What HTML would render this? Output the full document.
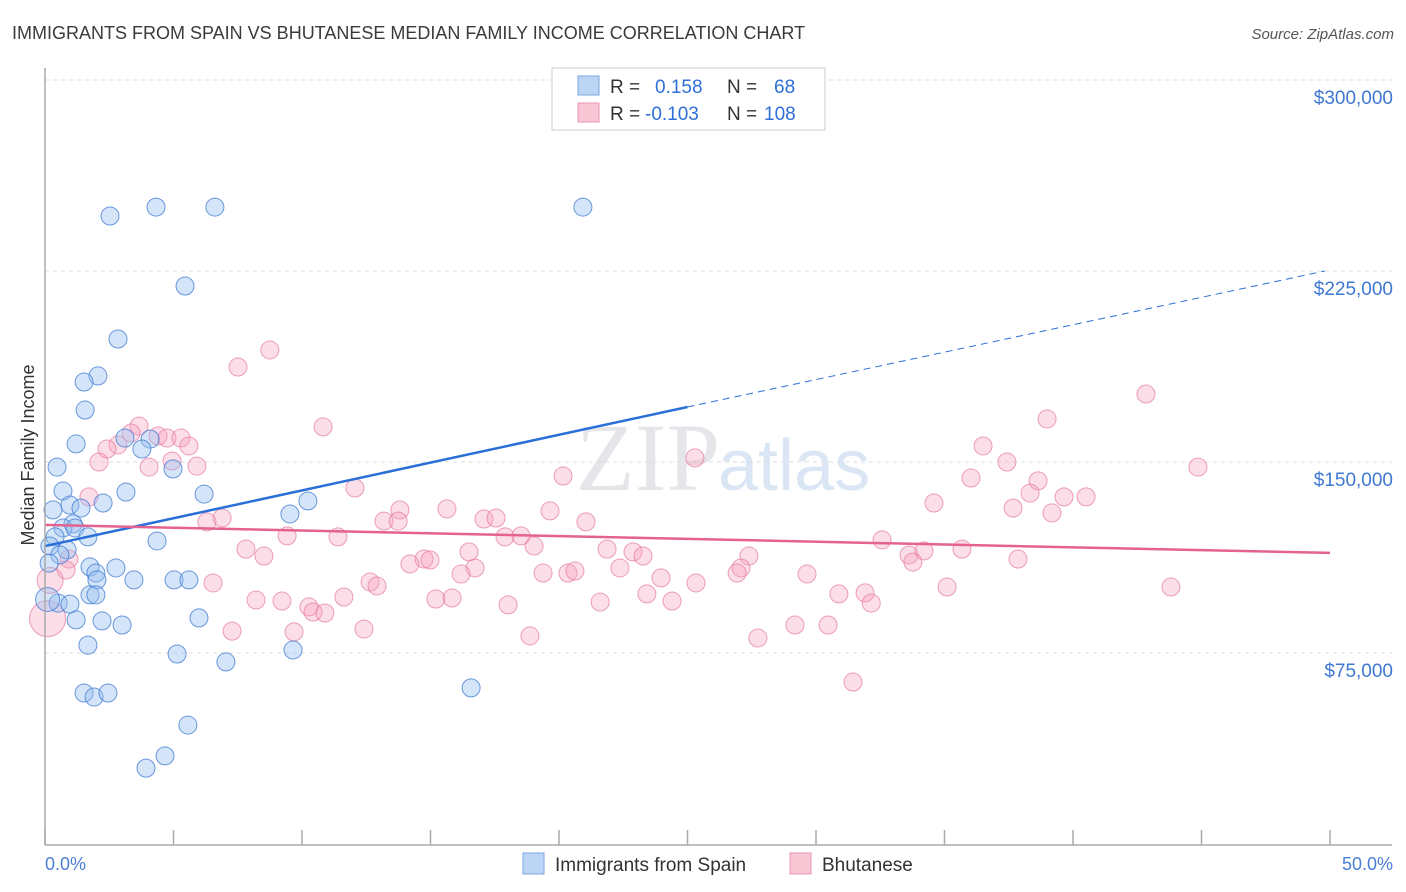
<!DOCTYPE html>
<html><head><meta charset="utf-8"><style>
body{margin:0;background:#fff;font-family:"Liberation Sans",sans-serif}
#c{position:absolute;left:0;top:0}
</style></head><body>
<svg id="c" width="1406" height="892" xmlns="http://www.w3.org/2000/svg">
<text x="12" y="39" font-size="18" fill="#3a3a3a">IMMIGRANTS FROM SPAIN VS BHUTANESE MEDIAN FAMILY INCOME CORRELATION CHART</text>
<text x="1394" y="39" font-size="15" fill="#555" text-anchor="end" font-style="italic">Source: ZipAtlas.com</text>
<text x="720" y="490" font-size="96" fill="#e6e6ea" text-anchor="end" font-family="Liberation Serif,serif">ZIP</text>
<text x="718" y="490" font-size="72" fill="#dbe6f5">atlas</text>
<g id="grid"></g>
<g id="pts"></g>
<g id="trend"></g>
<line x1="45" y1="68" x2="45" y2="845" stroke="#aaa" stroke-width="1.5"/>
<line x1="45" y1="845" x2="1392" y2="845" stroke="#aaa" stroke-width="1.5"/>
<g id="ticks"></g>
<text x="34" y="455" font-size="18" fill="#333" text-anchor="middle" transform="rotate(-90 34 455)">Median Family Income</text>
<text x="45" y="870" font-size="18" fill="#4a7fd4">0.0%</text>
<text x="1393" y="870" font-size="18" fill="#4a7fd4" text-anchor="end">50.0%</text>
<g>
<rect x="552" y="68" width="273" height="62" fill="#fff" stroke="#ccc"/>
<rect x="578" y="76" width="21" height="19" fill="#bcd5f5" stroke="#7aa6e0"/>
<rect x="578" y="103" width="21" height="19" fill="#f9c6d6" stroke="#ec95b1"/>
<text x="610" y="93" font-size="19" fill="#333">R = <tspan fill="#2f6fd6" x="655">0.158</tspan><tspan x="727" fill="#333">N =</tspan><tspan x="774" fill="#2f6fd6">68</tspan></text>
<text x="610" y="120" font-size="19" fill="#333">R = <tspan fill="#2f6fd6" x="645">-0.103</tspan><tspan x="727" fill="#333">N =</tspan><tspan x="764" fill="#2f6fd6">108</tspan></text>
</g>
<g>
<rect x="523" y="853" width="21" height="21" fill="#bcd5f5" stroke="#7aa6e0"/>
<text x="555" y="871" font-size="19" fill="#333">Immigrants from Spain</text>
<rect x="790" y="853" width="21" height="21" fill="#f9c6d6" stroke="#ec95b1"/>
<text x="822" y="871" font-size="19" fill="#333">Bhutanese</text>
</g>
</svg>
<script>
const yTicks=[75000,150000,225000,300000];
const yTickLabels=["$75,000","$150,000","$225,000","$300,000"];
const xTicks=[0,5,10,15,20,25,30,35,40,45,50];
const spainX=[2.53,4.32,6.61,20.93,5.45,2.84,2.06,1.52,1.56,1.21,0.47,3.11,4.09,3.77,4.98,6.19,3.15,0.70,2.26,0.97,1.40,0.31,9.53,10.23,1.09,0.70,1.17,1.67,0.39,4.36,0.19,0.86,0.58,0.16,1.75,2.76,1.98,2.02,3.46,5.02,5.60,1.75,1.98,0.51,0.97,5.99,1.21,2.22,3.00,1.67,5.14,9.65,7.04,1.52,1.91,2.45,16.58,5.56,4.67,3.93,0.1];
const spainY=[246.6,250.1,250.1,250.1,219.1,198.3,183.8,181.4,170.4,157.1,148.0,159.4,159.0,155.1,147.3,137.4,138.2,138.6,133.9,133.1,131.9,131.2,129.6,134.7,125.7,124.1,124.1,120.6,120.6,119.0,117.0,115.5,113.5,110.3,108.8,108.4,106.4,103.7,103.7,103.7,103.7,97.8,97.8,94.6,94.2,88.8,88.0,87.6,86.0,78.1,74.6,76.2,71.5,59.3,57.7,59.3,61.3,46.7,34.6,29.8,96.0];
const bhuX=[42.84,8.75,7.51,10.82,38.99,3.66,3.35,4.40,4.75,5.29,2.84,2.41,5.60,2.10,4.94,5.91,4.05,36.50,25.29,37.43,44.86,20.16,36.03,38.64,12.06,38.33,39.65,40.51,1.71,34.59,37.67,39.18,15.64,13.81,19.65,6.89,6.30,13.19,13.74,17.08,17.55,21.05,9.42,11.40,17.90,18.52,19.03,32.57,7.82,8.52,16.50,21.87,22.88,23.27,27.39,33.62,34.20,35.68,37.86,33.77,14.75,14.98,14.20,16.73,22.37,27.08,16.19,19.38,20.35,20.62,26.93,29.65,23.97,12.65,12.92,6.54,25.33,35.10,43.81,30.89,31.91,23.42,8.21,9.22,11.63,15.21,15.84,18.02,21.60,24.40,32.15,10.27,10.43,10.89,12.41,7.28,9.69,18.87,27.74,29.18,30.47,31.44,0.93,0.82,0.2,0.1];
const bhuY=[176.7,194.0,187.3,163.8,166.9,164.1,161.4,160.2,159.4,159.4,156.7,155.1,156.3,150.0,150.4,148.4,148.0,156.3,151.6,150.0,148.0,144.5,143.7,142.6,139.8,137.8,136.3,136.3,136.3,133.9,131.9,130.0,131.6,131.2,130.8,128.0,126.5,126.8,126.8,127.6,128.0,126.5,121.0,120.6,120.6,121.0,117.0,119.4,115.8,113.1,114.7,115.8,114.7,113.1,113.1,113.5,115.1,115.8,111.9,110.7,111.9,111.5,110.0,108.4,108.4,108.4,106.0,106.4,106.4,107.2,106.4,106.0,104.5,102.9,101.3,102.5,102.5,100.9,100.9,98.2,98.6,98.2,95.8,95.4,97.0,96.2,96.6,93.9,95.0,95.4,94.6,93.1,91.1,90.7,84.4,83.6,83.3,81.7,80.9,86.0,86.0,63.6,111.9,107.6,103.5,88.5];
const bhuR=[];for(let i=0;i<bhuX.length;i++)bhuR.push(9);bhuR[bhuR.length-2]=13;bhuR[bhuR.length-1]=18;
const spainTrend=[117.0,171.6,225.0];const spainTrendX=[0,25,49.8];
const bhuTrend=[125.3,114.3];const bhuTrendX=[0,50];
const X=p=>45+p*25.7, Y=v=>844-v*1000/392.7*(1/1000)*1000/1000*1;
function Yv(k){return 844-k*191/75;}
const ns="http://www.w3.org/2000/svg";
function mk(t,a,p){const e=document.createElementNS(ns,t);for(const k in a)e.setAttribute(k,a[k]);p.appendChild(e);return e;}
const grid=document.getElementById('grid'),ticks=document.getElementById('ticks');
yTicks.forEach((v,i)=>{const y=Yv(v/1000);
const l=mk('line',{x1:45,x2:1392,y1:y,y2:y,stroke:'#ddd','stroke-dasharray':'4,4'},grid);


const t=mk('text',{x:1393,y:y+24,'font-size':19,fill:'#3f78d2','text-anchor':'end'},grid);t.textContent=yTickLabels[i];

});
xTicks.forEach(p=>{const l=mk('line',{x1:X(p),x2:X(p),y1:830,y2:845,stroke:'#aaa','stroke-width':1.5},ticks);

});
const pts=document.getElementById('pts');
bhuX.forEach((x,i)=>{const c=mk('circle',{cx:X(x),cy:Yv(bhuY[i]),r:bhuR[i],fill:'rgba(245,160,190,0.35)',stroke:'rgba(230,120,160,0.7)','stroke-width':1},pts);

});
spainX.forEach((x,i)=>{const c=mk('circle',{cx:X(x),cy:Yv(spainY[i]),r:i==spainX.length-1?12:9,fill:'rgba(150,190,240,0.4)',stroke:'rgba(60,120,210,0.75)','stroke-width':1},pts);

});
const tr=document.getElementById('trend');
let l=mk('line',{x1:X(spainTrendX[0]),y1:Yv(spainTrend[0]),x2:X(spainTrendX[1]),y2:Yv(spainTrend[1]),stroke:'#2a6fd8','stroke-width':2.5},tr);


l=mk('line',{x1:X(spainTrendX[1]),y1:Yv(spainTrend[1]),x2:X(spainTrendX[2]),y2:Yv(spainTrend[2]),stroke:'#2a6fd8','stroke-width':1,'stroke-dasharray':'7,5'},tr);


l=mk('line',{x1:X(bhuTrendX[0]),y1:Yv(bhuTrend[0]),x2:X(bhuTrendX[1]),y2:Yv(bhuTrend[1]),stroke:'#e4628f','stroke-width':2.5},tr);


</script>
</body></html>
